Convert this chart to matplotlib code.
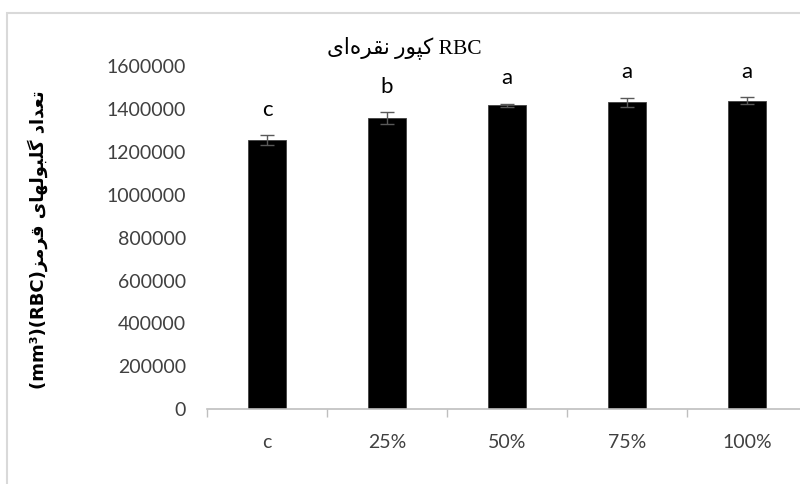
import matplotlib
matplotlib.use("Agg")
import matplotlib.pyplot as plt
from matplotlib.patches import Rectangle
from matplotlib.ticker import FixedLocator

# ---------------- data ----------------
categories = ["c", "25%", "50%", "75%", "100%"]
values = [1254000, 1357000, 1417000, 1431000, 1439000]
errors = [22600, 26500, 8000, 21000, 15700]
letters = ["c", "b", "a", "a", "a"]
yticks = [0, 200000, 400000, 600000, 800000, 1000000, 1200000, 1400000, 1600000]

# ------------- minimal Arabic/Persian shaping -------------
FORMS = {  # iso, fin, ini, med  (None for right-joining only)
    "\u0627": ("\uFE8D", "\uFE8E", None, None),
    "\u0628": ("\uFE8F", "\uFE90", "\uFE91", "\uFE92"),
    "\u067E": ("\uFB56", "\uFB57", "\uFB58", "\uFB59"),
    "\u062A": ("\uFE95", "\uFE96", "\uFE97", "\uFE98"),
    "\u062F": ("\uFEA9", "\uFEAA", None, None),
    "\u0631": ("\uFEAD", "\uFEAE", None, None),
    "\u0632": ("\uFEAF", "\uFEB0", None, None),
    "\u0639": ("\uFEC9", "\uFECA", "\uFECB", "\uFECC"),
    "\u0642": ("\uFED5", "\uFED6", "\uFED7", "\uFED8"),
    "\u06A9": ("\uFB8E", "\uFB8F", "\uFB90", "\uFB91"),
    "\u06AF": ("\uFB92", "\uFB93", "\uFB94", "\uFB95"),
    "\u0644": ("\uFEDD", "\uFEDE", "\uFEDF", "\uFEE0"),
    "\u0645": ("\uFEE1", "\uFEE2", "\uFEE3", "\uFEE4"),
    "\u0646": ("\uFEE5", "\uFEE6", "\uFEE7", "\uFEE8"),
    "\u0647": ("\uFEE9", "\uFEEA", "\uFEEB", "\uFEEC"),
    "\u0648": ("\uFEED", "\uFEEE", None, None),
    "\u06CC": ("\uFBFC", "\uFBFD", "\uFBFE", "\uFBFF"),
}


def shape(word):
    """Return visual-order (LTR) presentation-form string of a Persian word."""
    out = []
    n = len(word)
    for i, ch in enumerate(word):
        if ch not in FORMS:
            if ch != "\u200C":
                out.append(ch)
            continue
        prev = word[i - 1] if i > 0 else None
        nxt = word[i + 1] if i + 1 < n else None
        jp = prev in FORMS and FORMS[prev][2] is not None
        jn = nxt in FORMS and FORMS[ch][2] is not None
        iso, fin, ini, med = FORMS[ch]
        if jp and jn:
            g = med
        elif jp:
            g = fin
        elif jn:
            g = ini
        else:
            g = iso
        out.append(g)
    return "".join(reversed(out))


title_visual = shape("نقره\u200cای") + " " + shape("کپور") + " RBC"
ylabel_visual = "(mm\u00b3)(RBC)" + shape("قرمز") + " " + shape("گلبولهای") + " " + shape("تعداد")

# ---------------- figure ----------------
fig = plt.figure(figsize=(8.0, 4.84), dpi=100)
ax = fig.add_axes([207 / 800, 74.7 / 484, 600 / 800, (409.3 - 66) / 484])

x = list(range(len(categories)))
ax.bar(x, values, width=0.32, color="black", edgecolor="#404040", linewidth=0.6, zorder=2)
ax.errorbar(x, values, yerr=errors, fmt="none", ecolor="#595959",
            elinewidth=1.0, capsize=4.7, capthick=1.0, zorder=3)

for xi, v, e, lab in zip(x, values, errors, letters):
    ax.text(xi, v + e + 118000, lab, ha="center", va="center",
            fontsize=16, family="Lato", color="black")

ax.set_xlim(-0.5, len(categories) - 0.5)
ax.set_ylim(0, 1600000)
ax.set_yticks(yticks)
ax.set_yticklabels([str(t) for t in yticks], family="Lato", fontsize=14, color="#404040")
ax.tick_params(axis="y", length=0, pad=15)
ax.set_xticks(x)
ax.set_xticklabels(categories, family="Lato", fontsize=14, color="#404040")
ax.tick_params(axis="x", which="major", length=0, pad=18)
ax.xaxis.set_minor_locator(FixedLocator([i - 0.5 for i in range(len(categories) + 1)]))
ax.tick_params(axis="x", which="minor", length=6, width=1, color="#bfbfbf", direction="out")

for s in ["top", "right", "left"]:
    ax.spines[s].set_visible(False)
ax.spines["bottom"].set_color("#bfbfbf")
ax.spines["bottom"].set_linewidth(1.2)

fig.text(0.505, 1 - 48 / 484, title_visual, ha="center", va="center",
         fontsize=15.5, family=["Liberation Serif", "DejaVu Sans"], color="black")

fig.text(38 / 800, 1 - 240 / 484, ylabel_visual, rotation=90, ha="center", va="center",
         fontsize=13, fontweight="bold", family=["DejaVu Sans"], color="black")

frame = Rectangle((7 / 800, -0.2), 1.2, 0.2 + (1 - 13 / 484), transform=fig.transFigure,
                  fill=False, edgecolor="#d9d9d9", linewidth=1.5)
fig.patches.append(frame)

fig.savefig("out.png", dpi=100)
